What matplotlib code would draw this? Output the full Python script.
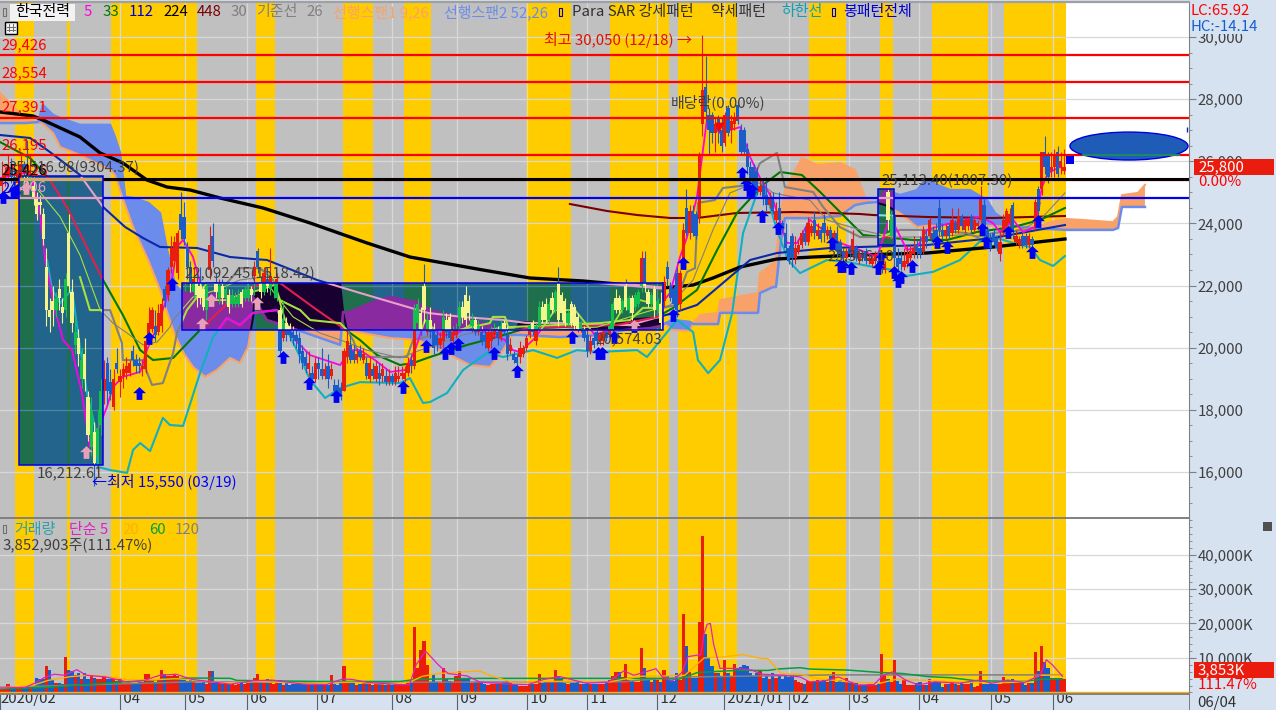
import matplotlib
matplotlib.use('Agg')
import matplotlib.pyplot as plt
import numpy as np
from matplotlib.patches import Rectangle, Ellipse

plt.rcParams['font.family'] = ['Noto Sans CJK KR', 'DejaVu Sans']

# session index = one trading day, prices in hundreds of won for the candles
candle_open = [
    252,254,256,258,255,253,256,259,257,254, 252,248,247,243,226,212,215,212,219,213,
    212,237,218,201,203,190,198,184,168,173, 165,175,186,195,189,181,195,189,191,192,
    192,199,196,195,193,193,204,206,207,205, 207,219,217,226,228,224,243,242,232,226,
    218,221,220,219,212,225,236,221,216,220, 216,217,214,214,214,218,216,216,219,223,
    231,221,218,222,219,218,216,212,203,208, 207,205,204,203,199,197,193,192,190,195,
    193,191,194,191,188,188,187,186,197,201, 199,196,199,196,195,190,193,190,192,191,
    191,189,191,189,190,191,190,192,196,194, 208,211,220,205,209,206,204,201,202,209,
    210,202,204,207,213,217,215,207,209,205, 205,204,200,202,204,205,203,208,204,199,
    198,197,197,198,200,204,208,202,207,213, 214,209,216,212,221,217,215,208,214,213,
    210,206,206,204,199,203,205,202,202,205, 204,206,216,216,212,220,212,216,213,214,
    220,229,218,214,219,212,214,215,226,220, 219,224,214,227,245,237,244,243,242,272,
    284,275,275,269,274,270,266,277,270,272, 278,270,270,264,258,258,257,250,252,249,
    246,248,241,245,240,237,232,236,229,231, 233,237,234,237,241,236,238,240,236,238,
    234,237,234,231,229,232,230,232,228,230, 231,228,227,228,228,229,225,250,236,242,
    229,229,226,227,229,230,233,232,231,236, 236,237,238,245,238,236,239,237,240,238,
    242,238,239,242,238,239,241,246,238,235, 237,235,230,237,239,240,246,234,233,236,
    236,233,235,239,251,251,263,262,257,258, 263,258,257]
candle_close = [
    254,256,258,255,253,256,259,257,255,256, 248,243,246,235,212,210,212,216,216,211,
    222,220,208,205,198,196,190,172,180,163, 174,186,190,186,185,190,193,191,193,194,
    195,196,194,194,194,202,208,212,204,211, 214,215,225,232,234,237,238,235,226,221,
    222,217,216,213,220,233,228,218,220,216, 219,213,217,216,217,214,219,219,217,226,
    226,218,224,220,223,218,222,199,208,204, 204,203,202,198,195,194,195,190,195,193,
    191,193,190,193,186,186,184,199,202,196, 196,198,197,198,191,195,191,194,190,193,
    189,191,189,192,191,192,192,195,194,212, 214,206,212,209,205,200,201,203,210,205,
    203,205,206,213,210,209,211,209,205,207, 202,202,205,205,206,203,207,205,198,201,
    196,195,200,200,203,207,205,207,213,209, 209,214,212,218,209,211,208,211,208,207,
    206,208,203,199,202,201,202,204,205,203, 207,214,212,212,215,213,216,211,217,218,
    229,220,214,217,212,215,208,221,222,216, 214,212,224,238,237,244,237,236,262,283,
    276,270,269,272,270,265,275,269,273,274, 273,263,263,258,254,252,250,252,248,246,
    248,244,244,241,238,232,228,229,232,233, 237,234,240,239,237,238,235,237,238,235,
    237,231,230,229,231,230,235,229,230,229, 228,229,229,230,226,225,227,241,242,229,
    226,227,228,230,231,232,231,230,238,234, 241,235,235,238,236,238,236,241,238,242,
    239,241,241,238,241,240,248,236,235,232, 234,232,234,241,244,243,238,236,235,233,
    233,236,233,247,244,263,258,255,258,262, 256,260,258]
candle_high = [
    260,258,262,261,258,260,263,260,267,262, 255,250,249,245,232,216,220,218,222,216,
    224,243,222,210,206,200,203,186,184,176, 180,190,196,197,193,193,200,193,195,197,
    196,201,198,197,196,203,213,213,212,214, 216,220,226,236,236,238,250,247,234,228,
    226,224,226,220,221,239,240,224,222,222, 221,219,219,218,219,219,220,221,220,228,
    232,223,226,226,232,221,224,213,215,210, 208,207,206,205,201,199,199,194,197,197,
    200,195,198,195,190,190,189,200,206,204, 201,200,201,200,197,197,195,196,195,195,
    193,193,192,194,194,194,194,197,198,214, 216,213,227,211,213,208,206,205,212,211,
    211,207,208,215,215,220,217,211,210,209, 207,206,206,207,208,207,209,209,207,203,
    199,198,202,201,204,208,209,208,215,215, 216,215,218,219,226,218,216,212,215,214,
    211,209,207,206,204,205,206,205,206,206, 208,215,219,217,216,222,217,217,218,219,
    231,231,219,218,220,216,218,223,228,221, 220,226,225,240,251,246,246,244,263,300.5,
    294,277,276,274,275,274,276,278,275,276, 279,272,271,266,260,259,258,254,254,255,
    250,250,247,250,241,240,233,237,236,235, 238,239,242,240,244,240,239,243,239,239,
    238,239,235,232,232,233,238,233,231,231, 232,230,230,231,231,230,228,251,244,244,
    232,231,232,233,233,236,235,236,239,238, 242,239,240,248,240,240,240,245,241,245,
    243,242,242,243,242,241,252,248,239,237, 238,236,238,243,245,245,247,238,236,237,
    237,237,236,248,252,263,268,263,263,264, 265,263,264]
candle_low = [
    250,252,254,253,251,252,254,253,252,252, 246,241,243,233,207,205,207,210,212,208,
    210,218,205,198,194,187,186,170,165,155.5, 160,172,182,182,183,180,192,184,187,190,
    191,194,192,192,191,192,204,205,202,204, 205,213,215,224,226,222,235,233,222,218,
    216,213,214,212,209,222,226,216,214,214, 214,211,213,213,213,213,215,215,215,217,
    224,216,217,218,217,216,215,198,202,202, 202,201,200,195,193,192,191,188,189,190,
    190,190,187,190,185,184,183,186,195,195, 195,195,196,195,190,189,190,189,188,189,
    188,188,188,188,189,190,189,191,192,193, 206,204,208,204,203,198,199,200,200,203,
    202,201,203,206,208,207,209,205,204,204, 201,200,199,200,203,201,202,204,196,198,
    195,194,195,197,199,203,204,201,206,208, 208,208,211,211,207,209,207,207,207,206,
    205,205,202,197,198,200,201,201,201,202, 203,205,211,211,211,212,211,209,212,213,
    218,218,213,213,210,211,206,213,220,215, 213,210,212,226,236,235,236,235,240,268,
    273,262,266,263,266,263,265,268,266,270, 272,262,262,256,252,251,249,249,246,244,
    245,243,240,240,237,231,227,226,227,230, 232,233,233,236,235,235,234,234,235,234,
    233,229,229,228,228,229,229,228,227,228, 227,227,226,227,224,224,224,238,235,226,
    224,225,225,226,228,229,229,229,230,232, 235,233,234,236,235,235,235,236,237,237,
    238,237,238,237,237,238,240,235,234,231, 233,231,228,236,238,239,235,233,232,232,
    232,232,232,238,240,249,256,253,255,255, 255,256,256]

volume = [
    1100,1100,2400,1100,1200,1400,1500,1200,2000,1600, 1900,4200,3800,3800,7600,6500,3800,2800,2700,2400,
    10200,6500,6200,5200,5700,3800,5700,3800,4800,4300, 3800,3800,4600,3800,3800,4000,3300,3800,2700,2800,
    2800,2400,2400,2900,3000,5500,5500,3300,3000,3800, 6500,5500,4800,4800,5200,4800,3800,3800,3300,3600,
    2900,2800,2700,2900,2500,6200,6200,3300,2700,2400, 2400,2400,2400,2100,2500,2700,2400,2800,3000,4300,
    5500,3000,2900,3800,3600,2500,2900,3600,2100,2700, 2100,2400,2400,2400,2400,2400,2100,2100,2200,2300,
    2400,2400,2100,5000,2400,2300,2700,7800,3000,2900, 2900,2100,2400,2900,2900,2900,2300,2400,2400,2700,
    2200,2400,2100,2400,2100,2200,2400,3600,2700,18900, 7100,12400,14800,7900,3000,5500,2900,2800,7100,3800,
    3300,3000,4800,6200,4300,4300,4300,2700,2900,2900, 2900,2400,2300,2500,2400,2500,2700,2900,3300,2700,
    2400,2100,2000,1900,1900,2400,2400,2400,5500,2700, 2900,2900,2900,6500,4800,3800,2800,2400,2700,2800,
    2900,2500,2400,2700,2500,2400,2400,2400,2500,2900, 3500,4800,5900,5900,4500,8400,3500,3300,3000,3000,
    12800,7100,3800,3000,4300,3500,2900,6600,4800,3500, 3300,5700,3500,22800,13600,5900,4300,4300,20400,45400,
    17100,10300,7600,5700,5700,4800,9500,5700,4800,8400, 7100,7400,8100,7600,5700,4800,5700,6200,4300,4800,
    3800,5700,4300,5200,3800,4800,4600,4800,3500,3000, 2800,2400,3300,2900,3000,3600,3300,3600,3000,4800,
    5900,2900,3600,2900,4300,3000,2900,2700,2100,2100, 2100,2400,2400,2100,2400,11200,5200,3800,3000,9500,
    3300,2500,3600,2100,2100,2100,2700,3000,2100,2300, 3800,3100,2900,2900,1700,2400,2400,2700,2400,2100,
    3100,2400,2400,3100,1700,1800,6200,2400,2400,2700, 2400,2400,2400,4600,3600,3600,4000,2900,2900,3100,
    2100,2700,2700,11600,6200,13500,8700,7100,4300,4300, 4300,4300,3853]
volume_flip = [14, 80, 131, 132, 192, 195, 275, 279]

# (session, value)
ma5 = [(0,25460),(4.7,25560),(9.4,25650),(11.6,24750),(12.5,24330),(14.1,22820),(17.2,21210),(19.7,20250),
    (22.5,19920),(25.6,18540),(28.1,16800),(30.6,17350),(33.4,18090),(35.3,18730),(38.4,19060),(43.8,19220),
    (45.9,19920),(49.1,20660),(52.2,21630),(54.1,22400),(55.3,23240),(57.2,23470),(60.3,22920),(64.1,21530),
    (70.3,21530),(75,21700),(81.3,21860),(85.9,22020),(89.1,20890),(92.2,20250),(96.9,19760),(101.6,19600),
    (106.3,19440),(109.4,19920),(112.5,19920),(117.2,19600),(121.9,19220),(126.6,19280),(129.7,19920),
    (132.8,20890),(137.5,20410),(142.2,20410),(146.9,20730),(153.1,20410),(157.8,20250),(160.3,19920),
    (162.5,19860),(167.2,20310),(173.4,21210),(179.7,21210),(185.9,20410),(190.6,20570),(195.3,21370),
    (200,21530),(206.3,21370),(209.4,21760),(212.5,22920),(214.7,23560),(217.8,24850),(219.4,26140),
    (220.9,27330),(225,26910),(231.3,27100),(234.4,26140),(237.5,25460),(241.6,24750),(245.9,23370),
    (249.1,23370),(253.1,24110),(257.2,23790),(262.5,23370),(268.8,23140),(274.1,22920),(278.1,24210),
    (280.3,23790),(283.4,23140),(286.6,23240),(289.7,23790),(294.7,23950),(306.3,24210),(310.3,24010),
    (312.5,23720),(316.6,24110),(319.7,23720),(323.4,23880),(325.6,25170),(327.5,25620),(331.3,25820),(332.8,25720)]
ma33 = [(0,26620),(9.4,26105),(15.6,25397),(20.9,24528),(29.1,22822),(32.2,22178),(38.4,21051),(43.8,19924),
    (47.8,19602),(54.1,19667),(62.5,20568),(72.8,21598),(80.3,22017),(87.5,22081),(99.1,21212),(107.2,20633),
    (112.5,20246),(117.8,19764),(125,19442),(129.1,19506),(134.4,19699),(145.9,20085),(155.3,20343),(164.7,20633),
    (192.8,20729),(205.3,20987),(210.3,21277),(217.8,21856),(224.1,23144),(230.3,24335),(238.4,25236),
    (243.8,25654),(250.6,25558),(256.3,25010),(262.5,24367),(269.7,23626),(285.3,23465),(295.9,23465),
    (305.3,23723),(316.6,23884),(325,24109),(332.8,24496)]
ma112 = [(0,26845),(9.4,26749),(15.6,26298),(25,25558),(32.2,24528),(39.1,23884),(44.7,23530),(50,23240),
    (61.6,23208),(71.9,22918),(79.1,22854),(83.4,22822),(99.1,22178),(112.5,21760),(133.8,21116),(144.7,20987),
    (157.2,20890),(164.7,20794),(178.1,20794),(188.4,20729),(196.9,20729),(210.3,21116),(217.8,21374),
    (225.9,22081),(234.4,22822),(242.8,23047),(259.4,23208),(268.8,23240),(289.7,23304),(310.3,23530),(332.8,23948)]
ma224 = [(0,27586),(10.3,27457),(13.4,27328),(25,26781),(31.3,26266),(38.4,25944),(45.9,25397),(52.2,25171),
    (59.4,25075),(68.8,24817),(82.2,24496),(96.9,24013),(114.7,23369),(128.1,22918),(150.9,22500),(165.6,22242),
    (182.2,22146),(207.2,21920),(216.6,22017),(222.8,22242),(231.3,22596),(242.8,22854),(254.1,22918),
    (267.8,22982),(289.7,23047),(310.3,23240),(332.8,23498)]
ma448 = [(178.1,24624),(189.7,24399),(199.1,24270),(209.4,24174),(217.8,24174),(230.3,24335),(249.1,24367),
    (268.8,24302),(272.8,24270),(289.7,24206),(310.3,24174),(332.8,24238)]
ma30 = [(11.9,25080),(18.8,24210),(25,22980),(31.3,21210),(35.3,20790),(39.7,20470),(44.7,20090),(49.1,20180),
    (53.1,20660),(54.1,20890),(60.3,21630),(67.8,21860),(75,22180),(82.2,22270),(86.6,21630),(91.6,20990),
    (100,20470),(106.3,20250),(114.7,19920),(125,19670),(131.3,19920),(134.4,20020),(144.7,20410),(155.3,20630),
    (165.6,20570),(186.6,20660),(200.9,21120),(209.4,21370),(216.6,22180),(222.8,23790),(228.1,24980),
    (234.4,25240),(237.5,25300),(241.6,24980),(253.1,24750),(258.4,24110),(268.8,23790),(279.1,23560),
    (289.7,23560),(300,23630),(310.3,23560),(320.9,23880),(325.9,24210),(332.8,24980)]
kijun = [(25,22270),(28.1,21210),(34.4,21210),(38.1,20150),(38.4,19600),(44.4,19600),(47.5,18800),(50.9,18860),
    (54.1,19830),(55.3,20470),(58.4,21210),(61.6,21630),(64.7,22080),(70.9,22080),(74,22440),(75,22560),
    (81.3,22560),(85.3,22180),(87.5,21530),(93.8,21210),(96.9,20890),(106.3,20790),(108.4,20570),(110.3,20250),
    (112.5,19700),(116.6,19700),(127.2,19700),(129.1,20250),(153.1,20790),(154,20990),(157.8,20990),(158.8,20660),
    (187.5,20790),(196.9,20890),(200.9,21280),(207.2,21280),(210.9,21370),(214.7,22440),(217.2,22560),
    (218.1,24660),(223.4,24750),(225.9,25140),(234.4,25240),(237.5,25940),(242.8,26270),(245.3,25170),
    (254.1,25010),(257.2,24530),(262.5,23880),(268.8,23560),(275,23560),(281.3,23790),(289.7,23790),
    (302.2,23690),(305.3,23560),(310.3,23690),(320.9,23790),(323.4,23880),(325,24660)]
lower_band = [(14.7,22820),(16.3,21860),(18.8,21440),(22.5,21860),(23.4,21210),(25,20020),(27.2,18540),(29.7,17450),
    (30.6,16160),(34.4,16060),(39.7,15970),(41.6,16710),(43.8,16930),(46.9,16670),(50.9,17740),(53.1,17510),
    (57.2,17480),(62.5,19180),(66.6,20340),(70.9,20950),(75,20730),(79.1,21120),(86.6,21210),(89.7,20570),
    (93.8,19700),(96.9,18960),(101.6,18380),(106.3,18700),(112.5,18890),(125,18860),(128.1,19020),(132.2,18220),
    (134.4,18250),(139.7,18540),(144.7,19280),(152.2,19830),(157.2,19700),(166.6,19920),(174.1,19670),(180.3,19920),
    (186.6,19860),(199.1,19920),(202.2,19700),(207.2,20340),(211.6,20890),(216.6,20500),(218.1,19600),(221.3,19180),
    (225,19600),(228.8,21120),(232.2,23690),(236.6,24980),(238.4,25300),(242.8,23790),(246.3,22820),(250,22400),
    (258.4,22820),(264.7,22760),(272.8,22600),(279.1,22500),(283.4,22310),(291.6,22440),(300,22820),(308.4,23630),
    (316.6,23370),(321.9,23240),(325,22820),(329.1,22630),(332.8,22950)]

# (session, span1, span2)
cloud = [(0,28200,27230),(3.8,27810,27230),(7.8,27330,27230),(11.9,27260,27260),(13.4,27200,27810),(16.6,26910,27490),
    (18.8,26460,27390),(25,26200,27170),(34.4,25720,27170),(35.9,25560,26780),(37.5,25070,26270),(39.1,24590,24850),
    (41.6,23880,24820),(46.3,22820,24660),(50,21860,24330),(52.2,21150,23140),(54.7,20410,22020),(57.2,19860,21760),
    (60.3,19380,21760),(64.1,19060,21760),(67.8,19280,21700),(71.9,19670,21700),(75,19510,21660),(77.5,20020,21660),
    (79.1,20990,21630),(79.7,21760,21530),(83.4,21920,20890),(88.4,22050,20730),(106.3,22050,20090),(107.2,21150,21150),
    (108.4,20570,21120),(116.6,20410,21470),(121.9,20310,21630),(126.6,20280,21530),(130.3,20250,21470),
    (134.4,20090,21210),(146.9,19440,20890),(153.1,19380,20730),(157.2,19920,20470),(160,20410,20410),
    (162.5,20830,20410),(175,20730,20340),(187.5,20730,20410),(195.3,20890,20570),(203.1,20950,20630),
    (206.3,20890,20700),(210,20570,20890),(215.6,20540,20830),(216.6,20790,20760),(218.8,21050,20760),
    (224.4,21120,20760),(225,21530,21120),(236.9,21760,21120),(237.5,22400,21760),(241.6,22720,21950),
    (242.5,22920,21950),(244.1,24430,23470),(245.3,25070,24170),(250.6,26110,24170),(255.3,25880,24170),
    (262.5,25940,24240),(267.2,25720,24590),(270.6,24750,24660),(274.1,24660,24690),(276.6,24590,25070),
    (281.3,24330,24910),(286.6,23880,25070),(289.1,23920,25400),(296.9,23920,25070),(303.1,23920,25070),
    (308.4,23920,24750),(310.9,23920,24330),(314.1,23880,24110),(316.6,23880,23920),(325,23920,23820),
    (328.1,24040,23820),(333.4,24140,23790),(338.4,24110,23790),(347.8,24040,23790),(349.4,24210,23850),
    (350.6,24910,24530),(355.6,24980,24530),(357.8,25240,24530)]

vol_ma5 = [(0,1300),(8,1500),(11,2800),(14,4400),(17,5300),(20,5000),(24,6600),(27,5000),(33,4500),(40,3000),(45,3500),
    (50,5000),(55,5300),(60,3800),(67,3000),(72,2400),(79,3400),(85,3600),(95,2400),(102,2300),(107,3900),(110,3800),
    (115,2900),(125,2300),(128,2300),(130,8000),(133,12000),(137,8000),(140,5500),(146,4800),(150,3000),(160,2400),
    (165,2300),(170,3800),(175,4600),(183,2700),(190,3000),(195,6300),(198,5000),(200,5500),(205,6900),(207,4500),
    (210,3300),(213,5700),(215,10400),(219,11000),(220,17000),(221,19800),(222,20000),(223,14000),(225,7000),(230,7000),
    (235,6500),(238,5300),(245,5000),(250,4500),(253,3100),(258,3400),(262,4500),(268,2200),(273,2200),(276,5000),
    (279,6000),(283,3600),(287,2200),(292,3100),(300,2700),(306,3600),(310,2700),(315,3600),(320,2800),(325,5000),
    (327,9500),(329,7900),(332,4700)]
vol_ma20 = [(0,1300),(10,2000),(15,3500),(22,4600),(28,5000),(33,4700),(40,3700),(48,3700),(55,4000),(62,3500),(70,2800),
    (80,3200),(95,2700),(110,3000),(120,2500),(128,3000),(132,4700),(137,5500),(145,6000),(150,6200),(153,5000),(160,3000),
    (170,3200),(180,3300),(190,3000),(200,4700),(208,4800),(214,5000),(217,7500),(220,10000),(226,10300),(232,11000),
    (237,10000),(240,9800),(244,5500),(250,5300),(256,4000),(266,3000),(275,2700),(280,3800),(290,3500),(300,3000),
    (310,2800),(320,3000),(325,5000),(332,5000)]
vol_ma60 = [(0,1000),(15,1500),(30,2500),(45,3500),(60,4200),(72,4100),(74,3500),(100,3200),(125,3200),(130,3800),(150,4100),
    (195,4100),(207,4100),(212,3800),(218,5800),(230,6400),(240,6400),(243,6800),(250,7200),(253,6800),(265,6500),(275,5800),
    (282,5500),(290,4600),(297,4300),(305,3400),(320,3200),(325,3800),(332,3900)]
vol_ma120 = [(0,1500),(30,2300),(60,3100),(100,2900),(125,3000),(195,3100),(200,3600),(215,4500),(260,5100),(332,5100)]

gold_bands = [(4.8,10.6),(20.8,21.9),(34.7,61.6),(80,85.9),(107.2,116.6),(126.4,134.6),(164.5,178.4),(190.5,209),
    (212,230.3),(252.8,264.4),(275,279),(291.3,308.8),(313.8,333.1)]
month_ticks = [0,37.5,57.7,77.1,99.2,122.5,142.8,164.6,183.4,205.2,226.4,246.7,265.2,287.3,309.7,329.2]
month_labels = ['2020/02',' 04',' 05',' 06',' 07',' 08',' 09',' 10',' 11',' 12',' 2021/01',' 02',' 03',' 04',' 05',' 06']

red_levels = [29426, 28554, 27391, 26195, 25400]
black_level = 25426
blue_level = 24806

arrow_x = [1,4,5.3,8,27,43.4,46.6,53.7,63,66,80.3,88.4,96.6,105,126,133,139,141,143,154.4,161.6,178.8,187,188,192,198,
    210.3,213.4,232,233,234,235,238,243,260,262.5,263.5,266,274.4,275.3,279.4,281.6,280.6,285,292.8,296,306.9,308,315,322.5,324.4]
arrow_y = [24850,25010,25075,25140,16640,18540,20310,22050,20760,21530,21440,19700,18860,18440,18730,20050,19830,19990,20120,
    19830,19250,20340,19830,19830,20340,20700,21050,22720,25620,25270,25070,25070,24240,23850,23370,22630,22630,22560,22560,
    22880,22440,22280,22150,22630,23400,23240,23820,23400,23720,23080,24080]

# Fibonacci style boxes: session left/right, price top/bottom
boxes = [(5.9, 32.3, 25516.98, 16212.61), (57, 207.2, 22092.45, 20574.03), (274.5, 279.4, 25113.40, 23306.10)]

normal = dict(gray='#C0C0C0', gold='#FFCC00', grid='#D8D8D8', red='#EA1C0E', blue='#1A5CC8', span1='#F8A26A', span2='#6B8CEB',
    ma5='#FF00E0', ma33='#007800', ma112='#0A28A8', ma224='#000000', ma448='#7A0000', ma30='#808080', kijun='#808080',
    band='#10B0C0', hred='#FF0000', hblack='#000000', hblue='#0000F0', arrow='#0000F0')
inbox = dict(gray='#23648C', gold='#1F6E4C', grid='#4F86A0', red='#12C04F', blue='#F5F58C', span1='#180030', span2='#8A2AA0',
    ma5='#FF00E0', ma33='#E02050', ma112='#E8A0C8', ma224='#E8A0C8', ma448='#80E0E0', ma30='#A8E040', kijun='#A8E040',
    band='#10B0C0', hred='#00E0E0', hblack='#D8A868', hblue='#E8A0C8', arrow='#E8A0B8')
inbox_mid = dict(inbox, ma5='#A8E040')

sessions = np.arange(len(candle_open))
o = np.array(candle_open) * 100.0
c = np.array(candle_close) * 100.0
h = np.array(candle_high) * 100.0
l = np.array(candle_low) * 100.0
up = c >= o

fig = plt.figure(figsize=(12.76, 7.10), dpi=100, facecolor='#D6E2F0')
W, H = 1276.0, 710.0
ax = fig.add_axes([0, 1 - 518 / H, 1189 / W, 516 / H], facecolor='white')
vax = fig.add_axes([0, 1 - 694 / H, 1189 / W, 176 / H], facecolor='white')
xmax = 1189 / 3.2


def pts(series):
    return np.array(series, dtype=float).T


def draw_price(colors, base, clip=None):
    made = []
    z = base
    made.append(ax.axvspan(0, gold_bands[-1][1], color=colors['gray'], lw=0, zorder=z))
    for b0, b1 in gold_bands:
        made.append(ax.axvspan(b0, b1, color=colors['gold'], lw=0, zorder=z + 0.1))
    for m in month_ticks[1:]:
        made.append(ax.axvline(m, color=colors['grid'], lw=0.9, zorder=z + 0.2))
    for p in range(16000, 30001, 2000):
        made.append(ax.axhline(p, color=colors['grid'], lw=0.9, zorder=z + 0.2))

    cx, s1, s2 = pts(cloud)
    made.append(ax.fill_between(cx, s1, s2, where=s2 >= s1, interpolate=True, color=colors['span2'], lw=0, zorder=z + 0.3))
    made.append(ax.fill_between(cx, s1, s2, where=s1 >= s2, interpolate=True, color=colors['span1'], lw=0, zorder=z + 0.3))
    made += ax.plot(cx, s1, color=colors['span1'], lw=1.5, zorder=z + 0.4)
    made += ax.plot(cx, s2, color=colors['span2'], lw=1.8, zorder=z + 0.4)

    bx, by = pts(ma448)
    made += ax.plot(bx, by, color=colors['ma448'], lw=1.5, zorder=z + 0.5)
    bx, by = pts(lower_band)
    made += ax.plot(bx, by, color=colors['band'], lw=1.5, zorder=z + 0.5)
    bx, by = pts(ma224)
    made += ax.plot(bx, by, color=colors['ma224'], lw=2.4, zorder=z + 0.5)
    bx, by = pts(ma112)
    made += ax.plot(bx, by, color=colors['ma112'], lw=1.5, zorder=z + 0.5)
    bx, by = pts(ma33)
    made += ax.plot(bx, by, color=colors['ma33'], lw=1.5, zorder=z + 0.5)
    bx, by = pts(kijun)
    made += ax.plot(bx, by, color=colors['kijun'], lw=1.5, zorder=z + 0.5)
    bx, by = pts(ma30)
    made += ax.plot(bx, by, color=colors['ma30'], lw=0.8, zorder=z + 0.5)

    bx, by = pts(ma5)
    made += ax.plot(bx, by, color=colors['ma5'], lw=1.3, zorder=z + 0.55)
    wick_col = [colors['red'] if u else colors['blue'] for u in up]
    made.append(ax.vlines(sessions + 0.5, l, h, colors=wick_col, lw=0.8, zorder=z + 0.6))
    bottoms = np.minimum(o, c)
    heights = np.maximum(np.abs(c - o), 30)
    made += list(ax.bar(sessions + 0.5, heights, 0.95, bottoms, color=wick_col, lw=0, antialiased=False, zorder=z + 0.61))

    made.append(ax.scatter(arrow_x, arrow_y, marker=arrow_shape, s=85, color=colors['arrow'], linewidths=0, zorder=z + 0.8))
    for level in red_levels:
        made.append(ax.axhline(level, color=colors['hred'], lw=1.6, zorder=z + 0.9))
    made.append(ax.axhline(black_level, color=colors['hblack'], lw=2.2, zorder=z + 0.91))
    made.append(ax.axhline(blue_level, color=colors['hblue'], lw=1.6, zorder=z + 0.91))
    if clip is not None:
        for a in made:
            a.set_clip_path(clip)


arrow_shape = [(0, 1), (1, 0.05), (0.45, 0.05), (0.45, -1), (-0.45, -1), (-0.45, 0.05), (-1, 0.05), (0, 1)]

draw_price(normal, 1)
for n, (x0, x1, top, bottom) in enumerate(boxes):
    frame = Rectangle((x0, bottom), x1 - x0, top - bottom, facecolor='none', edgecolor='none', transform=ax.transData)
    ax.add_patch(frame)
    draw_price(inbox_mid if n == 1 else inbox, 5 + 2 * n, frame)
    if n == 1:
        # the lower band turns magenta over the cloud in this box
        bx, by = pts(lower_band)
        keep = (bx >= 62) & (bx <= 87)
        seg = ax.plot(bx[keep], by[keep], color='#FF00E0', lw=1.5, zorder=7.75)[0]
        seg.set_clip_path(frame)
    ax.add_patch(Rectangle((x0, bottom), x1 - x0, top - bottom, facecolor='none', edgecolor='#0000E0', lw=1.1, zorder=5.95 + 2 * n))

# ellipse on the empty right side
ax.add_patch(Ellipse((352.8, 26490), 36.9, 900, facecolor='#1E5CB8', edgecolor='#0000E0', lw=1, zorder=20))
ax.plot([338.5, 368.5], [26195, 26195], color='#1E8A60', lw=1.4, zorder=21)
ax.scatter([334.4], [26040], marker='s', s=26, color='#0000F0', linewidths=0, zorder=21)
ax.vlines([370.8], [26950], [27100], colors='#0A28A8', lw=1, zorder=21)
ax.scatter([224.7], [27100], marker='v', s=50, color='#FF0000', linewidths=0, zorder=22)

ax.set_xlim(0, xmax)
ax.set_ylim(30000 - 32.19 * 481, 30000 + 32.19 * 35)
ax.set_xticks([])
ax.yaxis.tick_right()
ax.set_yticks(range(16000, 30001, 2000))
ax.set_yticklabels(['{:,}'.format(v) for v in range(16000, 30001, 2000)], color='#404040', fontsize=10.8)
ax.set_yticks(range(15000, 31001, 500), minor=True)
ax.tick_params(axis='y', which='major', length=5, color='#808080', pad=1)
ax.tick_params(axis='y', which='minor', length=2.5, color='#808080')
for side in ['left', 'bottom']:
    ax.spines[side].set_visible(False)
ax.spines['top'].set_color('#A0A0A0')
ax.spines['top'].set_linewidth(1.6)
ax.spines['right'].set_color('#808080')

# volume panel
vax.axvspan(0, gold_bands[-1][1], color=normal['gray'], lw=0, zorder=1)
for b0, b1 in gold_bands:
    vax.axvspan(b0, b1, color=normal['gold'], lw=0, zorder=1.1)
for m in month_ticks[1:]:
    vax.axvline(m, color=normal['grid'], lw=0.9, zorder=1.2)
for p in range(10000, 40001, 10000):
    vax.axhline(p, color=normal['grid'], lw=0.9, zorder=1.2)
vol_up = up.copy()
vol_up[volume_flip] = True
vax.bar(sessions + 0.5, volume, 1.0, color=[normal['red'] if u else normal['blue'] for u in vol_up], lw=0, antialiased=False, zorder=2)
vax.axhline(0, color='#FFB000', lw=1, zorder=2.5)
vx, vy = pts(vol_ma120)
vax.plot(vx, vy, color='#808080', lw=1.1, zorder=3)
vx, vy = pts(vol_ma60)
vax.plot(vx, vy, color='#00A040', lw=1.1, zorder=3.1)
vx, vy = pts(vol_ma20)
vax.plot(vx, vy, color='#FFB000', lw=1, zorder=3.2)
vx, vy = pts(vol_ma5)
vax.plot(vx, vy, color='#E020C0', lw=0.9, zorder=3.3)
vax.set_xlim(0, xmax)
vax.set_ylim(-435, 50580)
vax.yaxis.tick_right()
vax.set_yticks(range(10000, 40001, 10000))
vax.set_yticklabels(['{:,}K'.format(v) for v in range(10000, 40001, 10000)], color='#404040', fontsize=10.8)
vax.set_yticks(range(0, 50001, 2000), minor=True)
vax.tick_params(axis='y', which='major', length=5, color='#808080', pad=1)
vax.tick_params(axis='y', which='minor', length=2.5, color='#808080')
vax.set_xticks(month_ticks)
vax.set_xticklabels(month_labels, ha='left', color='#303030', fontsize=10.8)
vax.tick_params(axis='x', length=12, color='#606060', pad=-13.5)
vax.spines['left'].set_visible(False)
vax.spines['top'].set_color('#808080')
vax.spines['top'].set_linewidth(1.4)
vax.spines['right'].set_color('#808080')
vax.spines['bottom'].set_color('#808080')
vax.spines['bottom'].set_linewidth(1.4)


def label(x, y, s, color='#404040', size=10.8, **kw):
    return fig.text(x / W, 1 - y / H, s, color=color, fontsize=size, va='center', ha='left', **kw)


def px_rect(x, y, w, h, **kw):
    r = Rectangle((x / W, 1 - (y + h) / H), w / W, h / H, transform=fig.transFigure, **kw)
    fig.add_artist(r)
    return r


# legend row
px_rect(10, 4, 65, 17, facecolor='#F2F2F2', edgecolor='none', zorder=2.5)
label(15, 12, '한국전력', '#000000')
px_rect(3, 8, 3, 8, facecolor='none', edgecolor='#707070', lw=0.8, zorder=3)
legend_x = [84, 103, 129, 163, 197, 231, 256, 306, 333, 444, 572, 711, 781, 843]
legend_s = ['5', '33', '112', '224', '448', '30', '기준선', '26', '선행스팬1 9,26', '선행스팬2 52,26', 'Para SAR 강세패턴', '약세패턴', '하한선', '봉패턴전체']
legend_c = ['#FF00E0', '#007800', '#0000D0', '#000000', '#7A0000', '#808080', '#808080', '#808080', '#F8A26A', '#6B8CEB',
            '#303030', '#303030', '#10A0B0', '#0000D0']
for x, s, col in zip(legend_x, legend_s, legend_c):
    label(x, 12, s, col)
px_rect(559, 8, 3, 8, facecolor='none', edgecolor='#0000A0', lw=0.8, zorder=3)
px_rect(832, 8, 3, 8, facecolor='none', edgecolor='#0000A0', lw=0.8, zorder=3)

# small table icon
px_rect(5, 22, 12, 12, facecolor='#F4F4F4', edgecolor='#000000', lw=1, zorder=3)
for gx in [9, 13]:
    px_rect(gx, 24, 0.6, 8, facecolor='#707070', edgecolor='none', zorder=3.1)
for gy in [27, 30]:
    px_rect(6.5, gy, 9, 0.6, facecolor='#707070', edgecolor='none', zorder=3.1)

# price level labels
label(1, 45, '29,426', '#FF0000')
label(1, 73, '28,554', '#FF0000')
label(1, 107, '27,391', '#FF0000')
label(1, 145, '26,195', '#FF0000')
label(2, 171, '25,426', '#FF0000')
label(1, 170, '25,426', '#000000')
label(1, 188, '24,', '#0000F0')
label(21, 188, '806', '#E8A0C8')

label(8, 168, '25,516.98(9304.37)')
label(37, 473, '16,212.61')
label(92, 482, '←최저 15,550 (03/19)', '#0000F0')
label(184, 274, '22,092.45(1518.42)')
label(595, 339, '20,574.03')
label(544, 40, '최고 30,050 (12/18) →', '#E01000')
label(671, 102, '배당락(0.00%)')
label(881, 181, '25,113.40(1807.30)')
label(827, 256, '23,306.10')

# right column
px_rect(1190, 3, 84, 31, facecolor='#D6E2F0', edgecolor='none', zorder=2.5)
label(1190, 11, 'LC:65.92', '#FF0000')
label(1190, 27, 'HC:-14.14', '#1060D0')
px_rect(1194, 159, 80, 16, facecolor='#EA1C0E', edgecolor='none', zorder=2.5)
label(1198, 167, '25,800', '#FFFFFF')
label(1198, 182, '0.00%', '#FF0000')
px_rect(1194, 662, 80, 16, facecolor='#EA1C0E', edgecolor='none', zorder=2.5)
label(1198, 670, '3,853K', '#FFFFFF')
label(1198, 685, '111.47%', '#FF0000')
label(1197, 703, '06/04', '#303030')
px_rect(1189, 694, 0.8, 16, facecolor='#808080', edgecolor='none', zorder=2.5)
px_rect(1263, 522, 9, 9, facecolor='#505050', edgecolor='none', zorder=2.5)

# volume legend
px_rect(3, 525, 3, 8, facecolor='none', edgecolor='#707070', lw=0.8, zorder=3)
label(14, 530, '거래량', '#30A0A8')
label(69, 530, '단순 5', '#E020C0')
label(122, 530, '20', '#FFB000')
label(149, 530, '60', '#00A040')
label(175, 530, '120', '#808080')
label(3, 546, '3,852,903주(111.47%)')

fig.savefig('out.png', dpi=100, facecolor=fig.get_facecolor())
